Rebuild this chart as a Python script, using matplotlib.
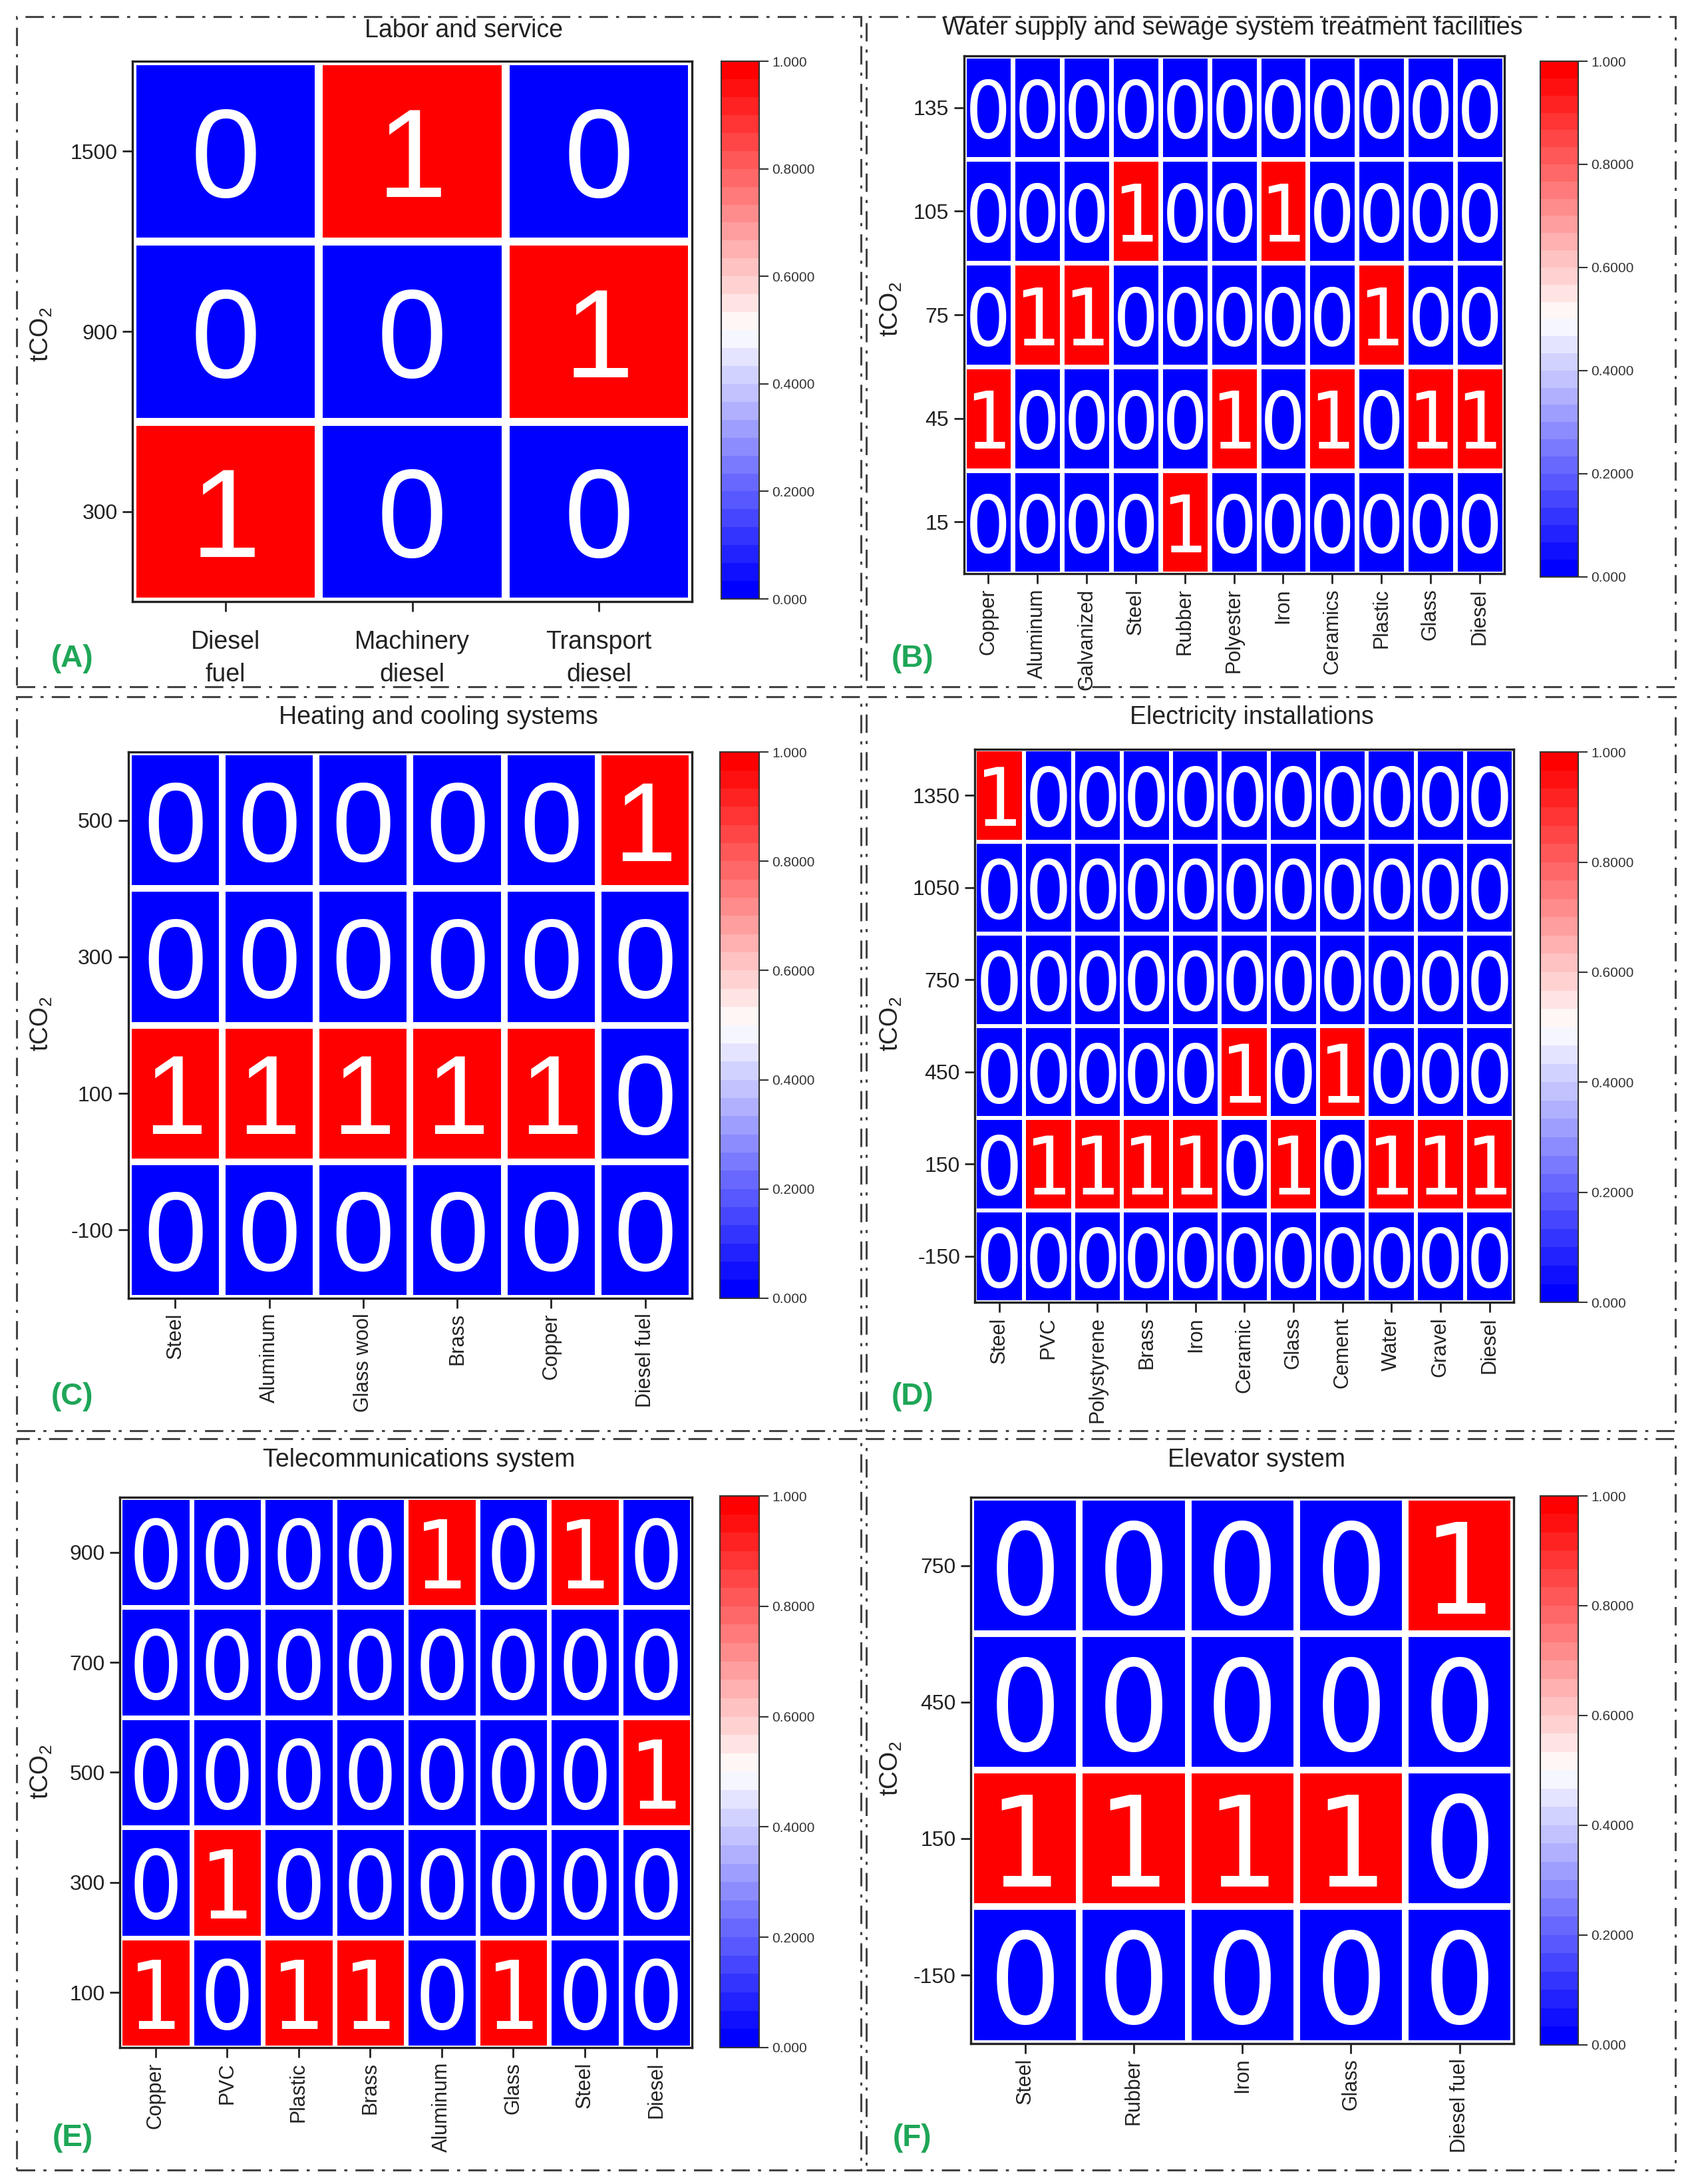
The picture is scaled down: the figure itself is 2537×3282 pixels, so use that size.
import numpy as np
import matplotlib
matplotlib.use('Agg')
from matplotlib import pyplot as plt
from matplotlib import font_manager
from matplotlib.colors import ListedColormap
from matplotlib.patches import Rectangle

# ---- data (rows listed top -> bottom, as in the picture) ----
a_cols = ['Diesel\nfuel', 'Machinery\ndiesel', 'Transport\ndiesel']
a_rows = [1500, 900, 300]
a_vals = [[0, 1, 0],
          [0, 0, 1],
          [1, 0, 0]]

b_cols = ['Copper', 'Aluminum', 'Galvanized', 'Steel', 'Rubber', 'Polyester',
          'Iron', 'Ceramics', 'Plastic', 'Glass', 'Diesel']
b_rows = [135, 105, 75, 45, 15]
b_vals = [[0, 0, 0, 0, 0, 0, 0, 0, 0, 0, 0],
          [0, 0, 0, 1, 0, 0, 1, 0, 0, 0, 0],
          [0, 1, 1, 0, 0, 0, 0, 0, 1, 0, 0],
          [1, 0, 0, 0, 0, 1, 0, 1, 0, 1, 1],
          [0, 0, 0, 0, 1, 0, 0, 0, 0, 0, 0]]

c_cols = ['Steel', 'Aluminum', 'Glass wool', 'Brass', 'Copper', 'Diesel fuel']
c_rows = [500, 300, 100, -100]
c_vals = [[0, 0, 0, 0, 0, 1],
          [0, 0, 0, 0, 0, 0],
          [1, 1, 1, 1, 1, 0],
          [0, 0, 0, 0, 0, 0]]

d_cols = ['Steel', 'PVC', 'Polystyrene', 'Brass', 'Iron', 'Ceramic', 'Glass',
          'Cement', 'Water', 'Gravel', 'Diesel']
d_rows = [1350, 1050, 750, 450, 150, -150]
d_vals = [[1, 0, 0, 0, 0, 0, 0, 0, 0, 0, 0],
          [0, 0, 0, 0, 0, 0, 0, 0, 0, 0, 0],
          [0, 0, 0, 0, 0, 0, 0, 0, 0, 0, 0],
          [0, 0, 0, 0, 0, 1, 0, 1, 0, 0, 0],
          [0, 1, 1, 1, 1, 0, 1, 0, 1, 1, 1],
          [0, 0, 0, 0, 0, 0, 0, 0, 0, 0, 0]]

e_cols = ['Copper', 'PVC', 'Plastic', 'Brass', 'Aluminum', 'Glass', 'Steel', 'Diesel']
e_rows = [900, 700, 500, 300, 100]
e_vals = [[0, 0, 0, 0, 1, 0, 1, 0],
          [0, 0, 0, 0, 0, 0, 0, 0],
          [0, 0, 0, 0, 0, 0, 0, 1],
          [0, 1, 0, 0, 0, 0, 0, 0],
          [1, 0, 1, 1, 0, 1, 0, 0]]

f_cols = ['Steel', 'Rubber', 'Iron', 'Glass', 'Diesel fuel']
f_rows = [750, 450, 150, -150]
f_vals = [[0, 0, 0, 0, 1],
          [0, 0, 0, 0, 0],
          [1, 1, 1, 1, 0],
          [0, 0, 0, 0, 0]]

titles = ['Labor and service',
          'Water supply and sewage system treatment facilities',
          'Heating and cooling systems',
          'Electricity installations',
          'Telecommunications system',
          'Elevator system']
panel_tags = ['(A)', '(B)', '(C)', '(D)', '(E)', '(F)']
cbar_ticks = [0.0, 0.2, 0.4, 0.6, 0.8, 1.0]
cbar_labels = ['0.000', '0.2000', '0.4000', '0.6000', '0.8000', '1.000']

# ---- style ----
plt.rcParams['font.family'] = ['Liberation Sans', 'DejaVu Sans']
plt.rcParams['mathtext.default'] = 'regular'

# a condensed face for the tall, thin cell numbers, if one is installed
cond = None
for f in font_manager.fontManager.ttflist:
    if ('Narrow' in f.name or 'Condensed' in f.name or
            str(f.stretch) in ('condensed', 'semi-condensed')) and f.style == 'normal' \
            and f.weight in (400, 'normal', 'regular'):
        cond = font_manager.FontProperties(fname=f.fname)
        break

W, H = 1212., 1568.   # layout measured on the reduced picture
cmap = ListedColormap(plt.get_cmap('bwr')(np.linspace(0, 1, 30)))
green = '#1fa657'
ink = '#222222'


def frac(x0, y0, x1, y1):
    return [x0 / W, 1 - y1 / H, (x1 - x0) / W, (y1 - y0) / H]


def draw_panel(fig, vals, cols, rows, hm_box, cb_box, digit_size, thin,
               gap, rotate=True):
    vals = np.array(vals)[::-1]          # bottom row first
    rows = list(rows)[::-1]
    ax = fig.add_axes(frac(*hm_box))
    ny, nx = vals.shape
    mesh = ax.pcolormesh(np.arange(nx + 1) - 0.5, np.arange(ny + 1) - 0.5, vals,
                         cmap=cmap, vmin=0, vmax=1, edgecolors='white',
                         linewidth=gap)
    size, size_cond = digit_size
    for i in range(ny):
        for j in range(nx):
            if thin and cond is not None:
                fp = cond.copy()
                fp.set_size(size_cond)
                ax.text(j, i, str(vals[i, j]), color='white', ha='center',
                        va='center_baseline', fontproperties=fp)
            else:
                ax.text(j, i, str(vals[i, j]), color='white', ha='center',
                        va='center_baseline', fontsize=size)
    ax.set_xlim(-0.5, nx - 0.5)
    ax.set_ylim(-0.5, ny - 0.5)
    ax.set_xticks(np.arange(nx))
    ax.set_yticks(np.arange(ny))
    ax.set_yticklabels([str(r) for r in rows], fontsize=23)
    if rotate:
        ax.set_xticklabels(cols, rotation=90, fontsize=22, ha='center', va='top')
    else:
        ax.set_xticklabels(cols, fontsize=27, linespacing=1.45)
    ax.tick_params(length=11, width=2, direction='out', pad=5, color=ink,
                   labelcolor=ink)
    if not rotate:
        ax.tick_params(axis='x', pad=20)
    for s in ax.spines.values():
        s.set_linewidth(2.4)
        s.set_color(ink)

    cax = fig.add_axes(frac(*cb_box))
    cb = fig.colorbar(mesh, cax=cax, ticks=cbar_ticks)
    cb.ax.set_yticklabels(cbar_labels)
    cb.ax.tick_params(length=10, width=1.5, labelsize=15, pad=4,
                      labelcolor='#333333', color='#333333')
    cb.outline.set_linewidth(1.5)
    cb.outline.set_edgecolor('#333333')
    return ax


fig = plt.figure(figsize=(25.37, 32.82), dpi=100)

# (values, columns, rows, heatmap box, colourbar box, (digit pt, condensed pt), thin, gap, rotated)
panels = [
    (a_vals, a_cols, a_rows, (95, 44, 497, 432), (518, 44, 545, 430), (136, 136), False, 8.5, False),
    (b_vals, b_cols, b_rows, (692, 40, 1080, 412), (1106, 44, 1133, 414), (84, 86), True, 5, True),
    (c_vals, c_cols, c_rows, (92, 540, 497, 932), (517, 540, 545, 932), (122, 122), False, 6, True),
    (d_vals, d_cols, d_rows, (700, 538, 1087, 935), (1106, 540, 1133, 935), (82, 88), True, 4, True),
    (e_vals, e_cols, e_rows, (86, 1075, 497, 1470), (517, 1074, 545, 1470), (100, 102), True, 5, True),
    (f_vals, f_cols, f_rows, (697, 1075, 1087, 1467), (1106, 1074, 1133, 1468), (130, 136), True, 7, True),
]

for vals, cols, rows, hb, cbb, ds, thin, gap, rot in panels:
    draw_panel(fig, vals, cols, rows, hb, cbb, ds, thin, gap, rotate=rot)

# titles, y labels and panel tags (positions in reduced-picture px)
title_pos = [(333, 22), (885, 20), (315, 515), (899, 515), (301, 1048), (902, 1048)]
ylab_pos = [(30, 240), (640, 222), (30, 735), (640, 735), (30, 1272), (640, 1270)]
tag_pos = [(52, 473), (655, 473), (52, 1003), (655, 1003), (52, 1535), (655, 1535)]
for k in range(6):
    x, y = title_pos[k]
    fig.text(x / W, 1 - y / H, titles[k], ha='center', va='center', fontsize=27,
             color=ink)
    x, y = ylab_pos[k]
    fig.text(x / W, 1 - y / H, r'tCO$_2$', ha='center', va='center',
             rotation=90, fontsize=27, color=ink)
    x, y = tag_pos[k]
    fig.text(x / W, 1 - y / H, panel_tags[k], ha='center', va='center',
             fontsize=33, fontweight='bold', color=green)

# dash-dot frames around each panel
boxes = [(12, 12, 618, 493), (622, 12, 1203, 493),
         (12, 500, 618, 1027), (622, 500, 1203, 1027),
         (12, 1033, 618, 1558), (622, 1033, 1203, 1558)]
for x0, y0, x1, y1 in boxes:
    fig.patches.append(Rectangle((x0 / W, 1 - y1 / H), (x1 - x0) / W, (y1 - y0) / H,
                                 transform=fig.transFigure, fill=False,
                                 edgecolor='#444444', linewidth=2.2,
                                 linestyle=(0, (9, 4, 1.5, 4))))

fig.savefig('out.png', dpi=100)
